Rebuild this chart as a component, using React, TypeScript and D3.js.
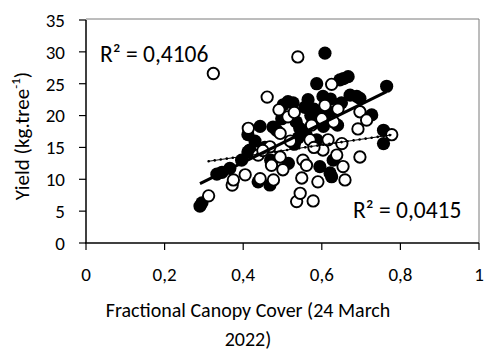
import React from "react";
import * as d3 from "d3";

const filledX = [0.290, 0.295, 0.333, 0.346, 0.366, 0.396, 0.412, 0.417, 0.412, 0.443, 0.438, 0.468, 0.485, 0.476, 0.502, 0.514, 0.527, 0.557, 0.544, 0.515, 0.587, 0.608, 0.603, 0.604, 0.587, 0.595, 0.621, 0.629, 0.625, 0.646, 0.667, 0.655, 0.672, 0.689, 0.697, 0.727, 0.765, 0.757, 0.757, 0.455, 0.470, 0.530, 0.560, 0.620, 0.640, 0.580, 0.540, 0.498, 0.430, 0.565, 0.572, 0.650, 0.622, 0.600, 0.535];
const filledY = [5.8, 6.3, 10.8, 11.1, 11.7, 13.0, 14.3, 14.6, 17.0, 18.3, 9.6, 9.1, 17.7, 18.2, 21.7, 22.2, 22.0, 21.3, 18.0, 12.5, 25.0, 29.8, 23.0, 18.3, 16.2, 12.0, 11.0, 13.0, 10.4, 25.6, 26.1, 25.8, 23.2, 23.0, 22.7, 20.1, 24.6, 17.7, 15.6, 15.0, 13.0, 15.5, 17.0, 20.5, 18.5, 21.0, 16.5, 19.5, 16.0, 22.5, 20.0, 22.0, 22.6, 20.6, 19.0];

const openX = [0.312, 0.324, 0.372, 0.375, 0.405, 0.413, 0.438, 0.443, 0.461, 0.468, 0.472, 0.477, 0.491, 0.494, 0.494, 0.501, 0.514, 0.539, 0.536, 0.545, 0.549, 0.552, 0.561, 0.570, 0.574, 0.578, 0.590, 0.603, 0.608, 0.616, 0.625, 0.638, 0.641, 0.651, 0.654, 0.659, 0.692, 0.697, 0.697, 0.714, 0.778, 0.450, 0.520, 0.580, 0.630, 0.530, 0.600];
const openY = [7.4, 26.6, 9.1, 9.9, 10.7, 18.0, 13.8, 10.1, 22.9, 15.1, 12.2, 9.9, 20.9, 17.2, 13.5, 11.5, 19.8, 29.2, 6.5, 7.8, 10.2, 13.0, 12.2, 16.2, 18.5, 6.6, 9.6, 14.6, 21.6, 16.2, 24.9, 13.8, 21.0, 15.6, 12.0, 9.9, 17.9, 13.5, 20.6, 19.3, 17.0, 14.5, 16.0, 15.0, 19.0, 20.5, 19.5];

// trendline coefficients: y = slope * x + intercept
const trendFilled = [30.4, 0.5];
const trendOpen = [8.9, 10.05];
const r2Labels = ["R² = 0,4106", "R² = 0,0415"];

const xTicks = [0, 0.2, 0.4, 0.6, 0.8, 1];
const yTicks = [0, 5, 10, 15, 20, 25, 30, 35];

const W = 488, H = 354;
const FONT = "Carlito, Calibri, Lato, 'Open Sans', sans-serif";

export default function App() {
  const x = d3.scaleLinear().domain([0, 1]).range([86, 479]);
  const y = d3.scaleLinear().domain([0, 35]).range([243, 20]);
  const fmt = (v: number) => String(v).replace(".", ",");

  const fExt = d3.extent(filledX) as [number, number];
  const oExt = d3.extent(openX) as [number, number];
  const line = d3.line<number[]>().x((v) => x(v[0])).y((v) => y(v[1]));
  const fLine = line(fExt.map((v) => [v, trendFilled[0] * v + trendFilled[1]]));
  const oLine = line(oExt.map((v) => [v, trendOpen[0] * v + trendOpen[1]]));

  return (
    <svg width={W} height={H} style={{ position: "fixed", left: 0, top: 0, background: "#fff" }} fontFamily={FONT}>
      <path d={`M${x(0)},${y(35) - 1}H${x(1)}V${y(0)}`} fill="none" stroke="#7a7a7a" strokeWidth={1} />
      {filledX.map((v, i) => (
        <circle key={"f" + i} cx={x(v)} cy={y(filledY[i])} r={6.6} fill="#000" />
      ))}
      {openX.map((v, i) => (
        <circle key={"o" + i} cx={x(v)} cy={y(openY[i])} r={5.7} fill="#fff" stroke="#000" strokeWidth={1.9} />
      ))}
      <path d={fLine || ""} stroke="#000" strokeWidth={3} fill="none" />
      <path d={oLine || ""} stroke="#000" strokeWidth={1} fill="none" />
      <path d={oLine || ""} stroke="#000" strokeWidth={2.6} strokeDasharray="0.1 6" strokeLinecap="round" fill="none" />
      <line x1={x(0)} x2={x(0)} y1={y(35)} y2={y(0)} stroke="#000" strokeWidth={1.5} />
      <line x1={x(0) - 1} x2={x(1)} y1={y(0)} y2={y(0)} stroke="#000" strokeWidth={1.5} />
      {yTicks.map((t) => (
        <g key={"y" + t}>
          <line x1={x(0) - 7} x2={x(0)} y1={y(t)} y2={y(t)} stroke="#000" strokeWidth={1.2} />
          <text x={65} y={y(t)} dy="0.36em" textAnchor="end" fontSize={19}>{fmt(t)}</text>
        </g>
      ))}
      {xTicks.map((t) => (
        <g key={"x" + t}>
          <line x1={x(t)} x2={x(t)} y1={y(0)} y2={y(0) + 7} stroke="#000" strokeWidth={1.2} />
          <text x={x(t)} y={281} textAnchor="middle" fontSize={19}>{fmt(t)}</text>
        </g>
      ))}
      <text x={248} y={317} textAnchor="middle" fontSize={20}>Fractional Canopy Cover (24 March</text>
      <text x={248} y={346} textAnchor="middle" fontSize={20}>2022)</text>
      <text transform={`translate(29,${136}) rotate(-90)`} textAnchor="middle" fontSize={21}>
        Yield (kg.tree<tspan fontSize={13} dy={-9}>-1</tspan><tspan dy={9}>)</tspan>
      </text>
      <text x={100} y={62} fontSize={23.5}>{r2Labels[0]}</text>
      <text x={353} y={218} fontSize={23.5}>{r2Labels[1]}</text>
    </svg>
  );
}
